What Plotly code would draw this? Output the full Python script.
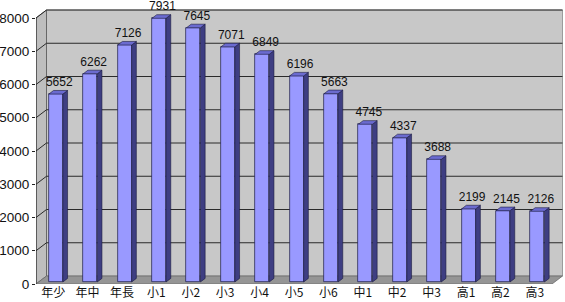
import plotly.graph_objects as go

# ---- data ----
categories = ["年少", "年中", "年長", "小1", "小2", "小3", "小4", "小5", "小6",
              "中1", "中2", "中3", "高1", "高2", "高3"]
values = [5652, 6262, 7126, 7931, 7645, 7071, 6849, 6196, 5663,
          4745, 4337, 3688, 2199, 2145, 2126]
y_ticks = [0, 1000, 2000, 3000, 4000, 5000, 6000, 7000, 8000]

# ---- geometry (pixels -> axis units) ----
W, H = 565, 302
ML, MR, MT, MB = 36, 2, 0, 18
plot_w = W - ML - MR
plot_h = H - MT - MB
cat_px = 34.4                      # px per category on the front plane
val_px = 266 / 8000                # px per value unit
x0 = -0.5
x1 = x0 + plot_w / cat_px
y1 = plot_h / val_px

DX = 10.5 / cat_px                 # full depth offset (x)
DY = 8 / val_px                    # full depth offset (y)
FD = 0.25                          # bar front depth fraction
BD = 0.45                          # bar depth fraction
BW = 14 / cat_px                   # bar width
xl, xr = -0.5, len(categories) - 0.5
top = y_ticks[-1]

fig = go.Figure()
shapes = []


def path_of(pts):
    return "M " + " L ".join(f"{x},{y}" for x, y in pts) + " Z"


def wall(pts, fill, line_color, lw=0.8):
    shapes.append(dict(type="path", path=path_of(pts), xref="x", yref="y",
                       fillcolor=fill, line=dict(color=line_color, width=lw),
                       layer="below"))


def seg(xa, ya, xb, yb, color, lw=1):
    shapes.append(dict(type="line", x0=xa, y0=ya, x1=xb, y1=yb, xref="x", yref="y",
                       line=dict(color=color, width=lw), layer="below"))


def poly(pts, fill, line_color, lw=0.6):
    xs = [p[0] for p in pts] + [pts[0][0]]
    ys = [p[1] for p in pts] + [pts[0][1]]
    fig.add_trace(go.Scatter(x=xs, y=ys, mode="lines", fill="toself",
                             fillcolor=fill, line=dict(color=line_color, width=lw),
                             hoverinfo="skip", showlegend=False))


# walls and floor
wall([(xl + DX, DY), (xr + DX, DY), (xr + DX, top + DY), (xl + DX, top + DY)],
     "#c8c8c8", "#8a8a8a")
wall([(xl, 0), (xl + DX, DY), (xl + DX, top + DY), (xl, top)],
     "#bebebe", "#555555")
wall([(xl, 0), (xr, 0), (xr + DX, DY), (xl + DX, DY)],
     "#959595", "#6a6a6a")

# gridlines on back wall + diagonals on left wall
for v in y_ticks[1:]:
    seg(xl, v, xl + DX, v + DY, "#2a2a2a")
    seg(xl + DX, v + DY, xr + DX, v + DY, "#2a2a2a")
# front vertical edge of left wall
seg(xl, 0, xl, top, "#222222")

# bars: front faces
bx = [i + FD * DX for i in range(len(categories))]
base = FD * DY
fig.add_trace(go.Bar(x=bx, y=values, base=base, width=BW,
                     marker=dict(color="#9999ff", line=dict(color="#1a1a40", width=0.7)),
                     hoverinfo="skip", showlegend=False))

# side and top faces
for cx, v in zip(bx, values):
    l = cx - BW / 2
    r = cx + BW / 2
    t = base + v
    poly([(r, base), (r, t), (r + BD * DX, t + BD * DY), (r + BD * DX, base + BD * DY)],
         "#3e3e82", "#1a1a40")
    poly([(l, t), (r, t), (r + BD * DX, t + BD * DY), (l + BD * DX, t + BD * DY)],
         "#6b6bd0", "#1a1a40")

# data labels
fig.add_trace(go.Scatter(
    x=[cx + 0.1 for cx in bx],
    y=[v + base + 11 / val_px for v in values],
    mode="text", text=[str(v) for v in values], textposition="middle center",
    textfont=dict(family="Liberation Sans, Arial, sans-serif", size=12, color="#111111"),
    cliponaxis=False, hoverinfo="skip", showlegend=False))

fig.update_layout(
    width=W, height=H,
    margin=dict(l=ML, r=MR, t=MT, b=MB, pad=0),
    paper_bgcolor="white", plot_bgcolor="white",
    showlegend=False, bargap=0, shapes=shapes,
    xaxis=dict(range=[x0, x1], tickmode="array",
               tickvals=list(range(len(categories))), ticktext=categories,
               showgrid=False, zeroline=False, showline=False, ticks="",
               tickfont=dict(family="Noto Sans CJK JP", size=12, color="#111111"),
               fixedrange=True),
    yaxis=dict(range=[0, y1], tickmode="array", tickvals=y_ticks,
               ticktext=[str(v) for v in y_ticks],
               showgrid=False, zeroline=False, showline=False,
               ticks="outside", ticklen=3, tickcolor="#222222",
               tickfont=dict(family="Liberation Sans, Arial, sans-serif", size=13.5,
                             color="#111111"),
               fixedrange=True),
)

fig.write_html("out.html")
